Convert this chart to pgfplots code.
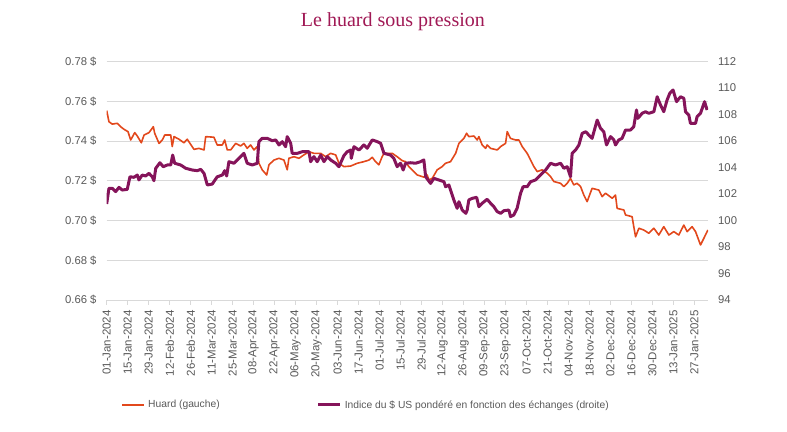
\documentclass[border=0pt]{standalone}
\usepackage{pgfplots}
\pgfplotsset{compat=1.18}
\usepackage{fontspec}
\setmainfont{Liberation Sans}
\newfontfamily\titlefont{Liberation Serif}
\definecolor{huard}{RGB}{226,72,28}
\definecolor{indice}{RGB}{133,20,90}
\definecolor{titlecol}{RGB}{160,25,85}
\definecolor{lbl}{RGB}{89,89,89}
\definecolor{gridc}{RGB}{217,217,217}
\begin{document}
\begin{tikzpicture}
\useasboundingbox (0,0) rectangle (787pt,431pt);
\pgfplotsset{
  base/.style={scale only axis, width=601.3pt, height=238.5pt,
    at={(106.7pt,131pt)}, anchor=south west, xmin=0, xmax=401,
    tick align=outside, major tick length=5pt},
}
\begin{axis}[base,
  ymin=0.66, ymax=0.78,
  ytick={0.66,0.68,0.70,0.72,0.74,0.76,0.78},
  yticklabels={0.66 \$,0.68 \$,0.70 \$,0.72 \$,0.74 \$,0.76 \$,0.78 \$},
  axis x line*=bottom, axis y line*=left,
  y axis line style={draw=none},
  x axis line style={draw=gridc, line width=0.8pt},
  ymajorgrids, grid style={draw=gridc, line width=0.8pt},
  ytick style={draw=none},
  xtick={0,14,...,392},
  xticklabels={01-Jan-2024,15-Jan-2024,29-Jan-2024,12-Feb-2024,26-Feb-2024,11-Mar-2024,25-Mar-2024,08-Apr-2024,22-Apr-2024,06-May-2024,20-May-2024,03-Jun-2024,17-Jun-2024,01-Jul-2024,15-Jul-2024,29-Jul-2024,12-Aug-2024,26-Aug-2024,09-Sep-2024,23-Sep-2024,07-Oct-2024,21-Oct-2024,04-Nov-2024,18-Nov-2024,02-Dec-2024,16-Dec-2024,30-Dec-2024,13-Jan-2025,27-Jan-2025},
  xtick style={draw=gridc, line width=0.8pt},
  xticklabel style={rotate=90, anchor=east, inner sep=0pt, font=\fontsize{11.5}{12}\selectfont, text=lbl},
  xticklabel shift=5pt,
  yticklabel style={anchor=east, inner sep=0pt, font=\fontsize{11.3}{12}\selectfont, text=lbl},
  yticklabel shift=5pt,
  title={\titlefont\fontsize{20}{22}\selectfont Le huard sous pression},
  title style={at={(0.476,1)}, anchor=base, yshift=29pt, text=titlecol, inner sep=0pt},
]
\addplot[huard, line width=1.6pt, line join=round] coordinates {
(0,0.7553) (1.5,0.7497) (3.7,0.7485) (7.1,0.7489) (9.3,0.7472) (11.5,0.7459) (14.2,0.7447) (16,0.7405) (18.7,0.7442) (20.4,0.7425) (23.1,0.7391) (24.9,0.7430) (28.2,0.7442) (31.1,0.7472) (32,0.7439) (34.9,0.7388) (37.1,0.7405) (38.7,0.7430) (42.7,0.7430) (43.7,0.7372) (44.9,0.7422) (48.2,0.7409) (51.5,0.7391) (53.7,0.7409) (58.2,0.7358) (61.5,0.7363) (64.9,0.7355) (66,0.7422) (71.5,0.7419) (73.7,0.7380) (77.1,0.7380) (78.7,0.7405) (80.4,0.7355) (82.7,0.7355) (86,0.7388) (89.3,0.7375) (91.5,0.7388) (93.7,0.7363) (96,0.7380) (98.2,0.7355) (100.4,0.7372) (101.5,0.7288) (103.7,0.7255) (106.7,0.7229) (108.2,0.7280) (111.5,0.7304) (114.9,0.7313) (118.2,0.7304) (120.4,0.7255) (121.5,0.7313) (124.9,0.7321) (128.2,0.7313) (131.5,0.7330) (134.9,0.7346) (138.2,0.7338) (142.7,0.7338) (146,0.7321) (149.3,0.7338) (152.7,0.7330) (154.9,0.7288) (158.2,0.7271) (162.7,0.7274) (167.1,0.7288) (171.5,0.7296) (174.9,0.7304) (177.1,0.7318) (179.3,0.7296) (181.5,0.7280) (183.7,0.7321) (184.9,0.7338) (190.4,0.7338) (193.7,0.7321) (197.1,0.7301) (199.3,0.7296) (201.5,0.7271) (203.7,0.7255) (207.1,0.7229) (211.5,0.7218) (213.7,0.7229) (214.9,0.7204) (217.1,0.7212) (220.4,0.7255) (223.7,0.7271) (226,0.7288) (229.3,0.7296) (232.7,0.7338) (234.9,0.7388) (238.2,0.7413) (240,0.7439) (241.5,0.7422) (244.9,0.7425) (247.1,0.7405) (248.2,0.7422) (250.4,0.7380) (252.7,0.7363) (253.7,0.7380) (256,0.7363) (260.4,0.7355) (262.7,0.7372) (266,0.7388) (267.1,0.7447) (269.3,0.7413) (272.7,0.7405) (274.9,0.7405) (277.1,0.7372) (280.4,0.7338) (282.7,0.7304) (284.9,0.7271) (287.1,0.7246) (290.4,0.7255) (293.7,0.7238) (296,0.7221) (298.2,0.7196) (302.7,0.7187) (304.9,0.7171) (307.1,0.7187) (309.3,0.7212) (311.5,0.7179) (313.7,0.7187) (316,0.7171) (318.2,0.7128) (320.4,0.7095) (323.7,0.7162) (328.2,0.7153) (330.4,0.7120) (332.7,0.7137) (337.1,0.7112) (339.3,0.7128) (340.4,0.7061) (344.9,0.7053) (346,0.7028) (350.4,0.7019) (351.5,0.6969) (352.7,0.6918) (354.9,0.6961) (358.2,0.6952) (361.5,0.6936) (364.9,0.6961) (368.2,0.6927) (371.5,0.6969) (374.9,0.6927) (378.2,0.6944) (381.5,0.6927) (384.9,0.6977) (387.1,0.6944) (390.4,0.6969) (392.7,0.6944) (396,0.6877) (398.2,0.6910) (400.9,0.6952)
};
\end{axis}
\begin{axis}[base,
  ymin=94, ymax=112,
  axis y line*=right, axis x line=none,
  y axis line style={draw=none}, ytick style={draw=none},
  ytick={94,96,98,100,102,104,106,108,110,112},
  yticklabels={94,96,98,100,102,104,106,108,110,112},
  yticklabel style={anchor=west, inner sep=0pt, font=\fontsize{11.3}{12}\selectfont, text=lbl},
  yticklabel shift=5pt,
  legend columns=2,
  legend image code/.code={\draw[#1] (0pt,0pt) -- (22pt,0pt);},
  legend style={at={(0.0238,-0.44)}, anchor=west, draw=none, fill=none,
    inner sep=0pt, font=\fontsize{10.3}{12}\selectfont, text=lbl,
    nodes={inner sep=0pt, anchor=west},
    /tikz/every odd column/.append style={column sep=3pt},
    /tikz/every even column/.append style={column sep=97pt}},
]
\addlegendimage{huard, line width=2pt}
\addlegendentry{Huard (gauche)}
\addplot[indice, line width=3pt, line join=round] coordinates {
(0,101.25) (1.5,102.43) (3.7,102.43) (6,102.18) (8.2,102.5) (10.4,102.3) (13.7,102.35) (15.5,103.3) (18.2,103.26) (20.4,103.43) (21.5,103.06) (23.7,103.43) (26,103.36) (28.2,103.56) (30.4,103.3) (31.5,103.0) (32.7,103.94) (35.5,104.36) (37.7,104.06) (40.4,104.19) (42.7,104.19) (44,104.94) (45.3,104.32) (49.3,104.19) (52.7,103.94) (57.1,103.81) (60.4,103.76) (62.7,103.86) (64.9,103.56) (67.1,102.68) (70.4,102.75) (73.7,103.3) (77.1,103.43) (78.7,103.76) (80,103.36) (81.5,104.44) (84.9,104.32) (88.2,104.69) (91.5,105.07) (93.7,104.32) (97.1,104.19) (100.4,104.32) (101.5,105.95) (103.7,106.2) (107.1,106.2) (110.4,106.02) (112.7,106.08) (114.9,105.7) (117.1,105.95) (119.3,105.57) (120.4,106.33) (122.7,105.83) (123.7,105.07) (127.1,105.07) (130.4,105.19) (134.9,105.19) (136,104.44) (138.2,104.82) (140.4,104.44) (142.7,104.94) (144.9,104.44) (147.1,104.82) (149.3,104.57) (152.7,104.32) (154.9,104.06) (158.2,104.9) (160.4,105.19) (162.7,105.32) (163.1,104.69) (164.9,105.57) (168.2,105.32) (171.5,105.7) (173.7,105.45) (177.1,106.08) (180.4,105.95) (182.7,105.83) (184.9,105.07) (189.3,104.94) (191.5,104.69) (193.7,104.06) (196,104.32) (197.7,103.81) (199.3,104.32) (202.7,104.36) (206,104.32) (209.3,104.44) (211.5,104.57) (212.7,103.3) (216,102.8) (218.2,103.18) (221.5,103.06) (224.9,102.93) (226,102.55) (228.2,102.68) (229.3,102.3) (231.5,101.55) (233.7,100.92) (234.9,101.42) (237.1,100.79) (239.5,100.54) (240.4,100.79) (241.5,101.55) (243.7,101.67) (246.7,101.75) (248.2,101.04) (250.4,101.3) (253.7,101.6) (256,101.3) (258.2,101.04) (260.4,100.67) (262.7,100.54) (264.9,100.74) (268.2,100.79) (269.3,100.29) (271.5,100.42) (273.7,100.92) (276,102.05) (277.7,102.55) (280.4,102.55) (282.7,102.93) (286,103.06) (289.3,103.43) (292.7,103.81) (296,104.32) (299.3,104.19) (302.7,104.32) (304.9,103.94) (307.1,104.06) (309.3,103.3) (310.4,105.07) (312.7,105.32) (314.9,105.7) (317.1,106.58) (319.5,106.7) (321.5,106.45) (323.7,106.2) (327.1,107.58) (329.3,106.96) (331.5,106.7) (333.3,105.7) (336,106.33) (338.2,106.08) (339.3,105.7) (341.5,106.08) (343.7,106.2) (346,106.83) (349.3,106.83) (351.5,107.08) (353.3,108.34) (354.2,107.71) (357.1,108.09) (359.3,108.21) (361.5,108.09) (364.9,108.21) (367.1,109.34) (369.3,108.72) (371.5,108.21) (373.7,109.09) (375.5,109.6) (377.7,109.85) (380,108.97) (382.7,109.34) (384.9,109.22) (386,108.21) (388.2,107.96) (389.3,107.33) (392.7,107.33) (393.7,107.83) (396,108.09) (398.7,108.97) (400.4,108.34)
};
\addlegendentry{Indice du \$ US pondéré en fonction des échanges (droite)}
\end{axis}
\end{tikzpicture}
\end{document}
